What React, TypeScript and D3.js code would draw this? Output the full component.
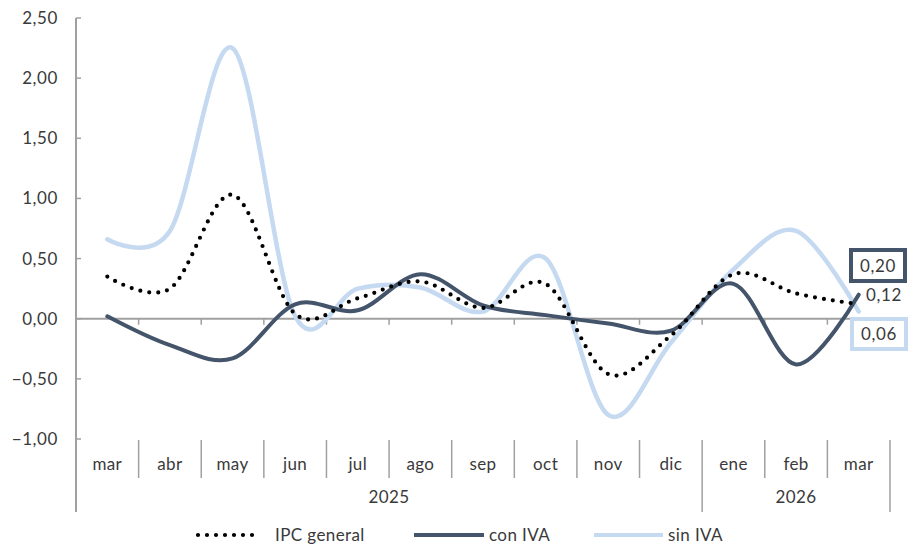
import React from "react";
import * as d3 from "d3";

const months = ["mar", "abr", "may", "jun", "jul", "ago", "sep", "oct", "nov", "dic", "ene", "feb", "mar"];
const years = ["2025", "2026"];
const yearSpans = [10, 3];
const ipcGeneral = [0.35, 0.25, 1.03, 0.04, 0.17, 0.31, 0.09, 0.29, -0.46, -0.14, 0.37, 0.21, 0.12];
const conIva = [0.02, -0.22, -0.33, 0.12, 0.07, 0.37, 0.11, 0.03, -0.04, -0.1, 0.29, -0.38, 0.2];
const sinIva = [0.66, 0.73, 2.25, 0.02, 0.25, 0.26, 0.06, 0.5, -0.8, -0.2, 0.41, 0.73, 0.06];
const yTicks = [-1, -0.5, 0, 0.5, 1, 1.5, 2, 2.5];

const W = 908;
const H = 545;
const left = 76;
const right = 890;
const top = 18;
const bottom = 439;
const DARK = "#44546A";
const LIGHT = "#C5D9F1";
const AXIS = "#A0A0A0";
const FONT = "Lato, 'Open Sans', sans-serif";
const TXT = "#3a3a3a";

const fmt = (v: number) => d3.format(".2f")(v).replace(".", ",");

export default function App() {
  const x = d3.scaleBand<number>().domain(months.map((_, i) => i)).range([left, right]).padding(0);
  const y = d3.scaleLinear().domain([-1, 2.5]).range([bottom, top]);
  const cx = (i: number) => (x(i) as number) + x.bandwidth() / 2;
  const line = d3
    .line<number>()
    .x((_, i) => cx(i))
    .y((d) => y(d))
    .curve(d3.curveCardinal.tension(0));

  const bw = x.bandwidth();
  const y0 = y(0);
  const last = months.length - 1;

  const yearBounds: number[] = [];
  let acc = 0;
  yearSpans.forEach((s) => {
    yearBounds.push(acc);
    acc += s;
  });

  return (
    <svg width={W} height={H} style={{ position: "absolute", left: 0, top: 0 }} fontFamily={FONT}>
      <rect width={W} height={H} fill="#fff" />
      {/* y axis */}
      <line x1={left} x2={left} y1={top} y2={512} stroke={AXIS} strokeWidth={2} />
      {yTicks.map((t) => (
        <g key={t}>
          <line x1={left} x2={left + 5} y1={y(t)} y2={y(t)} stroke={AXIS} strokeWidth={1.5} />
          <text x={58} y={y(t)} dy="0.35em" textAnchor="end" fontSize={17} fill={TXT} letterSpacing={0.6}>
            {fmt(t)}
          </text>
        </g>
      ))}
      {/* zero line */}
      <line x1={left} x2={right} y1={y0} y2={y0} stroke={AXIS} strokeWidth={2} />
      {months.map((_, i) =>
        i === 0 ? null : (
          <line key={"zt" + i} x1={x(i) as number} x2={x(i) as number} y1={y0} y2={y0 + 6} stroke={AXIS} strokeWidth={1.5} />
        )
      )}
      <line x1={right} x2={right} y1={y0} y2={y0 + 6} stroke={AXIS} strokeWidth={1.5} />

      {/* category labels */}
      {months.map((m, i) => (
        <text key={"m" + i} x={cx(i)} y={464} dy="0.35em" textAnchor="middle" fontSize={17} fill={TXT} letterSpacing={0.4}>
          {m}
        </text>
      ))}
      {months.map((_, i) => {
        if (i === 0) return null;
        const isYear = yearBounds.includes(i);
        const xx = x(i) as number;
        return <line key={"s" + i} x1={xx} x2={xx} y1={440} y2={isYear ? 512 : 478} stroke={AXIS} strokeWidth={1.5} />;
      })}
      <line x1={right} x2={right} y1={440} y2={512} stroke={AXIS} strokeWidth={1.5} />
      {years.map((yr, k) => {
        const s = yearBounds[k];
        const e = s + yearSpans[k];
        const mid = ((x(s) as number) + (x(e - 1) as number) + bw) / 2;
        return (
          <text key={yr} x={mid} y={497} dy="0.35em" textAnchor="middle" fontSize={17} fill={TXT} letterSpacing={0.4}>
            {yr}
          </text>
        );
      })}

      {/* series */}
      <path d={line(sinIva) || ""} fill="none" stroke={LIGHT} strokeWidth={4.5} strokeLinecap="round" />
      <path d={line(conIva) || ""} fill="none" stroke={DARK} strokeWidth={4} strokeLinecap="round" />
      <path d={line(ipcGeneral) || ""} fill="none" stroke="#000" strokeWidth={4.2} strokeDasharray="0 9" strokeLinecap="round" />

      {/* end labels */}
      <rect x={851} y={250} width={54} height={31} fill="#fff" stroke={DARK} strokeWidth={4} />
      <text x={878} y={266} dy="0.35em" textAnchor="middle" fontSize={17} fill={TXT} letterSpacing={0.6}>
        {fmt(conIva[last])}
      </text>
      <text x={866} y={295} dy="0.35em" textAnchor="start" fontSize={17} fill={TXT} letterSpacing={0.6}>
        {fmt(ipcGeneral[last])}
      </text>
      <rect x={852} y={319} width={54} height={30} fill="#fff" stroke={LIGHT} strokeWidth={4} />
      <text x={879} y={334} dy="0.35em" textAnchor="middle" fontSize={17} fill={TXT} letterSpacing={0.6}>
        {fmt(sinIva[last])}
      </text>

      {/* legend */}
      <line x1={198} x2={258} y1={535} y2={535} stroke="#000" strokeWidth={4.2} strokeDasharray="0 9" strokeLinecap="round" />
      <text x={275} y={535} dy="0.35em" fontSize={17} fill={TXT} letterSpacing={0.4}>IPC general</text>
      <line x1={414} x2={484} y1={535} y2={535} stroke={DARK} strokeWidth={4} />
      <text x={489} y={535} dy="0.35em" fontSize={17} fill={TXT} letterSpacing={0.4}>con IVA</text>
      <line x1={594} x2={663} y1={535} y2={535} stroke={LIGHT} strokeWidth={4} />
      <text x={668} y={535} dy="0.35em" fontSize={17} fill={TXT} letterSpacing={0.4}>sin IVA</text>
    </svg>
  );
}
